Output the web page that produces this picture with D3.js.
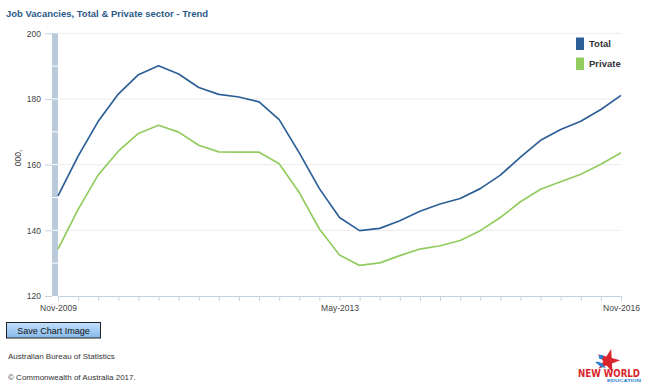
<!DOCTYPE html>
<html>
<head>
<meta charset="utf-8">
<script src="https://cdn.jsdelivr.net/npm/d3@7"></script>
<style>
  body { margin: 0; background: #fff; }
  svg { display: block; font-family: "Liberation Sans", Arial, sans-serif; }
</style>
</head>
<body>
<svg id="chart"></svg>
<script>
// quarterly trend, thousands
const quarters = ["Nov-2009","Feb-2010","May-2010","Aug-2010","Nov-2010","Feb-2011","May-2011","Aug-2011",
  "Nov-2011","Feb-2012","May-2012","Aug-2012","Nov-2012","Feb-2013","May-2013","Aug-2013","Nov-2013",
  "Feb-2014","May-2014","Aug-2014","Nov-2014","Feb-2015","May-2015","Aug-2015","Nov-2015","Feb-2016",
  "May-2016","Aug-2016","Nov-2016"];
const total = [150.5,162.6,173.2,181.5,187.4,190.1,187.6,183.5,181.4,180.6,179.1,173.7,163.6,152.7,
  143.9,139.9,140.6,142.9,145.8,148.0,149.7,152.7,156.8,162.3,167.4,170.7,173.2,176.8,181.1];
const privateSector = [134.3,146.4,156.9,164.1,169.5,172.0,169.9,165.9,163.9,163.8,163.8,160.3,151.5,140.4,
  132.5,129.3,130.1,132.3,134.3,135.3,136.9,139.9,143.9,148.7,152.5,154.8,157.1,160.1,163.6];
const xTickLabels = ["Nov-2009","May-2013","Nov-2016"];
const yTicks = [120,140,160,180,200];
const yMinor = [130,150,170,190];
const seriesNames = ["Total","Private"];
const seriesColors = ["#2d5f97","#92cc5e"];

const width = 650, height = 390;
const svg = d3.select('#chart').attr('width', width).attr('height', height);

const x = d3.scalePoint().domain(quarters).range([58, 621]);
const y = d3.scaleLinear().domain([120, 200]).range([296, 33.3]);

// title
svg.append('text')
  .attr('x', 6).attr('y', 17)
  .attr('fill', '#2b5a8a')
  .style('font-weight', 'bold')
  .style('font-size', '9.5px')
  .text('Job Vacancies, Total & Private sector - Trend');

// gridlines
svg.append('g')
  .selectAll('line')
  .data(yTicks.filter(d => d > 120))
  .enter().append('line')
  .attr('x1', 58).attr('x2', 621)
  .attr('y1', d => y(d)).attr('y2', d => y(d))
  .attr('stroke', '#ececec');

// shaded bar left of the plot
svg.append('rect')
  .attr('x', 52).attr('y', y(200))
  .attr('width', 6).attr('height', y(120) - y(200))
  .attr('fill', '#b9cadb');
svg.append('g')
  .selectAll('line')
  .data(yMinor.concat(yTicks.filter(d => d > 120 && d < 200)))
  .enter().append('line')
  .attr('x1', 52).attr('x2', 58)
  .attr('y1', d => y(d)).attr('y2', d => y(d))
  .attr('stroke', '#fff').attr('stroke-width', 1);

// y axis
const yAxis = d3.axisLeft(y).tickValues(yTicks).tickSize(7).tickPadding(4);
const gy = svg.append('g').attr('transform', 'translate(52,0)').call(yAxis);
gy.select('.domain').remove();
gy.selectAll('.tick line').attr('stroke', '#c8d3de');
gy.selectAll('.tick text')
  .attr('fill', '#444')
  .style('font-size', '8.5px')
  .style('font-family', '"Liberation Sans", Arial, sans-serif');

svg.append('text')
  .attr('transform', 'translate(21,158) rotate(-90)')
  .attr('text-anchor', 'middle')
  .attr('fill', '#444')
  .style('font-size', '8.5px')
  .text('000,');

// x axis
const xAxis = d3.axisBottom(x).tickSize(5).tickPadding(4)
  .tickFormat(d => xTickLabels.includes(d) ? d : '');
const gx = svg.append('g').attr('transform', 'translate(0,296)').call(xAxis);
gx.select('.domain').attr('stroke', '#c5d3e0').attr('d', 'M58,0.5H621');
gx.selectAll('.tick line').attr('stroke', '#c5d3e0');
gx.selectAll('.tick text')
  .attr('fill', '#444')
  .style('font-size', '8.5px')
  .style('font-family', '"Liberation Sans", Arial, sans-serif');

// lines
const line = d3.line().x((d, i) => x(quarters[i])).y(d => y(d));
[total, privateSector].forEach((s, k) => {
  svg.append('path')
    .datum(s)
    .attr('d', line)
    .attr('fill', 'none')
    .attr('stroke', seriesColors[k])
    .attr('stroke-width', 1.7)
    .attr('stroke-linejoin', 'round');
});

// legend
const lg = svg.append('g').selectAll('g')
  .data(seriesNames)
  .enter().append('g')
  .attr('transform', (d, i) => `translate(576,${37.5 + i * 20})`);
lg.append('rect')
  .attr('width', 8).attr('height', 12.5)
  .attr('fill', (d, i) => seriesColors[i]);
lg.append('text')
  .attr('x', 13).attr('y', 9.5)
  .attr('fill', '#333')
  .style('font-weight', 'bold')
  .style('font-size', '9.5px')
  .text(d => d);

// save button
const defs = svg.append('defs');
const grad = defs.append('linearGradient').attr('id', 'btn').attr('x1', 0).attr('x2', 0).attr('y1', 0).attr('y2', 1);
grad.append('stop').attr('offset', '0%').attr('stop-color', '#c4e0fb');
grad.append('stop').attr('offset', '100%').attr('stop-color', '#86b9ea');
svg.append('rect')
  .attr('x', 6.5).attr('y', 322.5).attr('width', 94).attr('height', 15.5)
  .attr('fill', 'url(#btn)').attr('stroke', '#222');
svg.append('text')
  .attr('x', 53.5).attr('y', 333.5)
  .attr('text-anchor', 'middle')
  .attr('fill', '#111')
  .style('font-size', '9px')
  .text('Save Chart Image');

// footer
svg.append('text')
  .attr('x', 8).attr('y', 359)
  .attr('fill', '#333')
  .style('font-size', '8px')
  .text('Australian Bureau of Statistics');
svg.append('text')
  .attr('x', 8).attr('y', 380)
  .attr('fill', '#333')
  .style('font-size', '8px')
  .text('\u00A9 Commonwealth of Australia 2017.');

// watermark logo
const logo = svg.append('g');
logo.append('path')
  .attr('d', d3.symbol(d3.symbolStar, 170)())
  .attr('transform', 'translate(608,361) rotate(15)')
  .attr('fill', '#d9262c');
logo.append('circle').attr('cx', 601).attr('cy', 357).attr('r', 2.3).attr('fill', '#2a7fd0');
logo.append('path')
  .attr('d', 'M595,362 Q601,361 604,366 L606,368 L601,367 Z')
  .attr('fill', '#2a7fd0');
logo.append('text')
  .attr('x', 578).attr('y', 376.5)
  .attr('fill', '#d9262c')
  .style('font-weight', 'bold')
  .style('font-size', '10px')
  .style('font-family', '"DejaVu Sans", sans-serif')
  .attr('textLength', 62).attr('lengthAdjust', 'spacingAndGlyphs')
  .text('NEW WORLD');
logo.append('text')
  .attr('x', 607).attr('y', 382)
  .attr('fill', '#2a7fd0')
  .style('font-weight', 'bold')
  .style('font-size', '4px')
  .attr('textLength', 34).attr('lengthAdjust', 'spacingAndGlyphs')
  .text('EDUCATION');
</script>
</body>
</html>
